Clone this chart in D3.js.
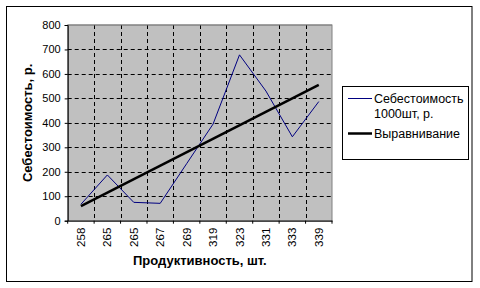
<!DOCTYPE html>
<html><head><meta charset="utf-8">
<script src="https://cdn.jsdelivr.net/npm/d3@7"></script>
<style>body{margin:0;background:#fff}svg{display:block;font-family:"Liberation Sans",Arial,sans-serif}</style>
</head><body><svg id="c" width="480" height="288"></svg>
<script>
const categories = ["258","265","265","267","269","319","323","331","333","339"];
const costValues = [67, 187, 75, 71, 233, 395, 678, 530, 343, 487];
const trendValues = [60, 555]; // at first and last category
const yTicks = [0,100,200,300,400,500,600,700,800];
const seriesNames = ["Себестоимость", "1000шт, р.", "Выравнивание"];

const svg = d3.select("#c");
const L = 67.7, R = 332, T = 25, B = 220.7;

svg.append("rect").attr("x",6.5).attr("y",6.5).attr("width",465.5).attr("height",275)
  .attr("fill","#fff").attr("stroke","#000").attr("stroke-width",1);

const x = d3.scaleBand().domain(d3.range(categories.length)).range([L,R]).padding(0);
const y = d3.scaleLinear().domain([0,800]).range([B,T]);

svg.append("rect").attr("x",L).attr("y",T).attr("width",R-L).attr("height",B-T)
  .attr("fill","#c0c0c0").attr("stroke","#808080");

const g = svg.append("g");
g.selectAll(".hg").data(yTicks.filter(v=>v>0&&v<800)).enter().append("line")
  .attr("x1",L).attr("x2",R).attr("y1",d=>Math.round(y(d))+0.5).attr("y2",d=>Math.round(y(d))+0.5)
  .attr("stroke","#000").attr("stroke-dasharray","4,3");
g.selectAll(".vg").data(d3.range(1,categories.length)).enter().append("line")
  .attr("x1",d=>Math.round(x(d))+0.5).attr("x2",d=>Math.round(x(d))+0.5).attr("y1",T).attr("y2",B)
  .attr("stroke","#000").attr("stroke-dasharray","4,3");
svg.append("line").attr("x1",L).attr("x2",R).attr("y1",T).attr("y2",T).attr("stroke","#808080");

const yAxis = d3.axisLeft(y).tickValues(yTicks).tickSize(3).tickPadding(4);
const ya = svg.append("g").attr("transform",`translate(${L},0)`).call(yAxis);
ya.select(".domain").attr("stroke","#000");
ya.selectAll("line").attr("stroke","#000");
ya.selectAll("text").attr("font-size","11px").attr("fill","#000").attr("font-family","Liberation Sans, Arial");

const xAxis = d3.axisBottom(x).tickFormat(i=>categories[i]).tickSize(0);
const xa = svg.append("g").attr("transform",`translate(0,${B})`).call(xAxis);
xa.select(".domain").attr("stroke","#000");
xa.selectAll("text").attr("font-size","11.5px").attr("fill","#000").attr("font-family","Liberation Sans, Arial")
  .attr("transform","rotate(-90)").attr("text-anchor","end").attr("dy","0.35em").attr("x",-7).attr("y",0);
xa.selectAll(".bt").data(d3.range(0,categories.length+1)).enter().append("line")
  .attr("x1",d=>d<categories.length?x(d):R).attr("x2",d=>d<categories.length?x(d):R)
  .attr("y1",0).attr("y2",3).attr("stroke","#000");

const cx = i => x(i) + x.bandwidth()/2;
svg.append("path").datum(costValues)
  .attr("d", d3.line().x((d,i)=>cx(i)).y(d=>y(d)))
  .attr("fill","none").attr("stroke","#000080").attr("stroke-width",1);
svg.append("path").datum(trendValues)
  .attr("d", d3.line().x((d,i)=>cx(i===0?0:categories.length-1)).y(d=>y(d)))
  .attr("fill","none").attr("stroke","#000").attr("stroke-width",2.5);

svg.append("text").attr("x",(L+R)/2).attr("y",265).attr("text-anchor","middle")
  .attr("font-size","13px").attr("font-weight","bold").text("Продуктивность, шт.");
svg.append("text").attr("transform",`translate(31.5,${(T+B)/2}) rotate(-90)`).attr("text-anchor","middle")
  .attr("font-size","13px").attr("font-weight","bold").text("Себестоимость, р.");

svg.append("rect").attr("x",342.5).attr("y",86.5).attr("width",126).attr("height",73)
  .attr("fill","#fff").attr("stroke","#000");
svg.append("line").attr("x1",348).attr("x2",372).attr("y1",98.5).attr("y2",98.5).attr("stroke","#000080");
svg.append("text").attr("x",374).attr("y",103).attr("font-size","12.5px").text(seriesNames[0]);
svg.append("text").attr("x",374).attr("y",117.5).attr("font-size","12.5px").text(seriesNames[1]);
svg.append("line").attr("x1",348).attr("x2",372).attr("y1",133.5).attr("y2",133.5).attr("stroke","#000").attr("stroke-width",2.5);
svg.append("text").attr("x",374).attr("y",138).attr("font-size","12.5px").text(seriesNames[2]);
</script></body></html>
